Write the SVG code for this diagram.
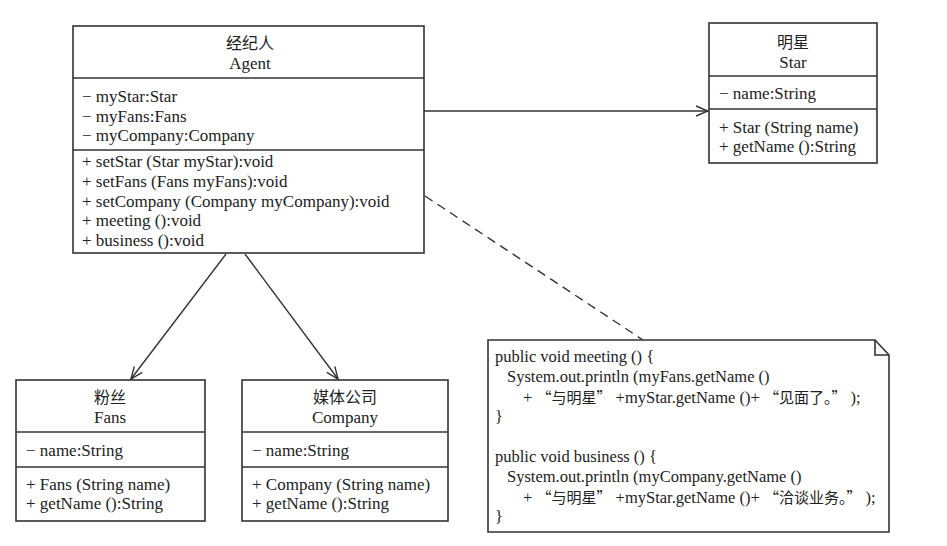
<svg xmlns="http://www.w3.org/2000/svg" width="947" height="546" viewBox="0 0 947 546">
<style>
.box{fill:#fff;stroke:#333;stroke-width:1.6}
.ln{stroke:#333;stroke-width:1.6;fill:none}
text{font-family:"Liberation Serif","Noto Sans CJK SC",serif;font-size:17px;fill:#222}
.c{text-anchor:middle}
.cn{font-family:"Noto Sans CJK SC",sans-serif;font-size:16px}
.nt{font-size:16.5px}
.q{font-family:"Noto Sans CJK SC",sans-serif;font-size:15px}
.conn{stroke:#333;stroke-width:1.4;fill:none}
</style>
<defs>
<marker id="open" markerWidth="14" markerHeight="12" refX="13" refY="6" orient="auto" markerUnits="userSpaceOnUse">
<path d="M1,1 L13,6 L1,11" fill="none" stroke="#333" stroke-width="1.4"/>
</marker>
</defs>
<rect width="947" height="546" fill="#fff"/>
<g id="connectors">
<line class="conn" x1="424" y1="111" x2="708" y2="111" marker-end="url(#open)"/>
<line class="conn" x1="226" y1="254" x2="131" y2="379" marker-end="url(#open)"/>
<line class="conn" x1="245" y1="254" x2="338" y2="379" marker-end="url(#open)"/>
<line class="conn" x1="425" y1="196" x2="643" y2="340" stroke-dasharray="9,6"/>
</g>
<g id="agent">
<rect class="box" x="73" y="26" width="351" height="227"/>
<line class="ln" x1="73" y1="78" x2="424" y2="78"/>
<line class="ln" x1="73" y1="150" x2="424" y2="150"/>
<text class="c cn" x="250" y="49">经纪人</text>
<text class="c" x="250" y="69">Agent</text>
<text x="82" y="102">− myStar:Star</text>
<text x="82" y="122">− myFans:Fans</text>
<text x="82" y="141">− myCompany:Company</text>
<text x="82" y="167">+ setStar (Star myStar):void</text>
<text x="82" y="187">+ setFans (Fans myFans):void</text>
<text x="82" y="207">+ setCompany (Company myCompany):void</text>
<text x="82" y="226">+ meeting ():void</text>
<text x="82" y="246">+ business ():void</text>
</g>
<g id="star">
<rect class="box" x="709" y="23" width="168" height="140"/>
<line class="ln" x1="709" y1="76" x2="877" y2="76"/>
<line class="ln" x1="709" y1="109" x2="877" y2="109"/>
<text class="c cn" x="793" y="48">明星</text>
<text class="c" x="793" y="68">Star</text>
<text x="719" y="99">− name:String</text>
<text x="719" y="133">+ Star (String name)</text>
<text x="719" y="152">+ getName ():String</text>
</g>
<g id="fans">
<rect class="box" x="16" y="380" width="189" height="141"/>
<line class="ln" x1="16" y1="432" x2="205" y2="432"/>
<line class="ln" x1="16" y1="467" x2="205" y2="467"/>
<text class="c cn" x="110" y="403">粉丝</text>
<text class="c" x="110" y="423">Fans</text>
<text x="26" y="456">− name:String</text>
<text x="26" y="490">+ Fans (String name)</text>
<text x="26" y="509">+ getName ():String</text>
</g>
<g id="company">
<rect class="box" x="242" y="380" width="206" height="141"/>
<line class="ln" x1="242" y1="432" x2="448" y2="432"/>
<line class="ln" x1="242" y1="467" x2="448" y2="467"/>
<text class="c cn" x="345" y="403">媒体公司</text>
<text class="c" x="345" y="423">Company</text>
<text x="252" y="456">− name:String</text>
<text x="252" y="490">+ Company (String name)</text>
<text x="252" y="509">+ getName ():String</text>
</g>
<g id="note">
<path class="box" d="M488,340 H875 L889,355 V532 H488 Z"/>
<path class="ln" d="M875,340 V355 H889"/>
<text class="nt" x="495" y="362">public void meeting () {</text>
<text class="nt" x="507" y="382">System.out.println (myFans.getName ()</text>
<text class="nt" x="523" y="403">+ <tspan class="q">“与明星”</tspan> +myStar.getName ()+ <tspan class="q">“见面了。”</tspan> );</text>
<text class="nt" x="495" y="422">}</text>
<text class="nt" x="495" y="462">public void business () {</text>
<text class="nt" x="507" y="482">System.out.println (myCompany.getName ()</text>
<text class="nt" x="523" y="503">+ <tspan class="q">“与明星”</tspan> +myStar.getName ()+ <tspan class="q">“洽谈业务。”</tspan> );</text>
<text class="nt" x="495" y="522">}</text>
</g>
</svg>
